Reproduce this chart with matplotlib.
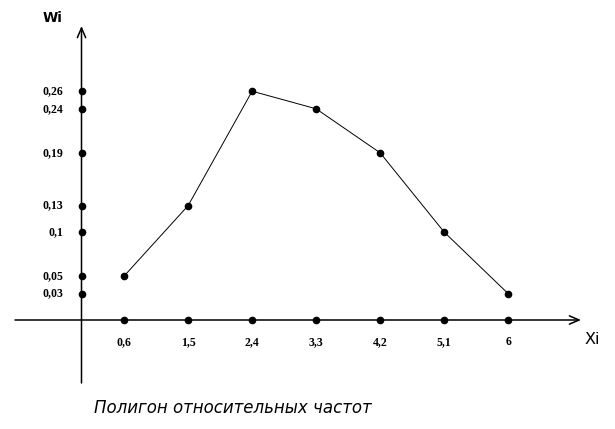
import matplotlib
matplotlib.use("Agg")
import matplotlib.pyplot as plt

# relative frequency polygon
xi = [0.6, 1.5, 2.4, 3.3, 4.2, 5.1, 6]
wi = [0.05, 0.13, 0.26, 0.24, 0.19, 0.1, 0.03]
x_labels = ["0,6", "1,5", "2,4", "3,3", "4,2", "5,1", "6"]
y_ticks = [0.26, 0.24, 0.19, 0.13, 0.1, 0.05, 0.03]
y_labels = ["0,26", "0,24", "0,19", "0,13", "0,1", "0,05", "0,03"]

W, H = 615, 429
fig = plt.figure(figsize=(W / 100, H / 100), dpi=100)
ax = fig.add_axes([0, 0, 1, 1])
ax.set_axis_off()

# pixel layout of the original drawing
x0_px, x_scale = 81.5, 71.1
y0_px, y_scale = 320, 880
ax.set_xlim((0 - x0_px) / x_scale, (W - x0_px) / x_scale)
ax.set_ylim((y0_px - H) / y_scale, y0_px / y_scale)

# axes with open arrow heads
arrow = dict(arrowstyle="->,head_length=0.7,head_width=0.3", lw=1.1, color="black",
             shrinkA=0, shrinkB=0)
ax.annotate("", xy=((581 - x0_px) / x_scale, 0), xytext=((15 - x0_px) / x_scale, 0),
            arrowprops=arrow)
ax.annotate("", xy=(0, (y0_px - 26) / y_scale), xytext=(0, (y0_px - 383) / y_scale),
            arrowprops=arrow)

# polygon
ax.plot(xi, wi, color="black", lw=0.7, marker="o", markersize=4.5, zorder=3)

# dots and labels on the axes
ax.plot([0] * len(y_ticks), y_ticks, "o", color="black", markersize=4.5, zorder=3)
ax.plot(xi, [0] * len(xi), "o", color="black", markersize=4.5, zorder=3)

tick_font = dict(family="Liberation Serif", weight="bold", fontsize=8.5)
for v, lab in zip(y_ticks, y_labels):
    ax.annotate(lab, xy=(0, v), xytext=(-13, 0), textcoords="offset points",
                ha="right", va="center", **tick_font)
for v, lab in zip(xi, x_labels):
    ax.annotate(lab, xy=(v, 0), xytext=(0, -16), textcoords="offset points",
                ha="center", va="center", **tick_font)

fig.text(53 / W, 1 - 18 / H, "Wi", ha="center", va="center",
         fontsize=10, weight="bold", family="DejaVu Sans")
fig.text(592 / W, 1 - 340 / H, "Xi", ha="center", va="center",
         fontsize=11.5, family="DejaVu Sans")
fig.text(233 / W, 1 - 408 / H, "Полигон относительных частот", ha="center",
         va="center", fontsize=12, style="italic", family="DejaVu Sans")

fig.savefig("out.png", dpi=100)
